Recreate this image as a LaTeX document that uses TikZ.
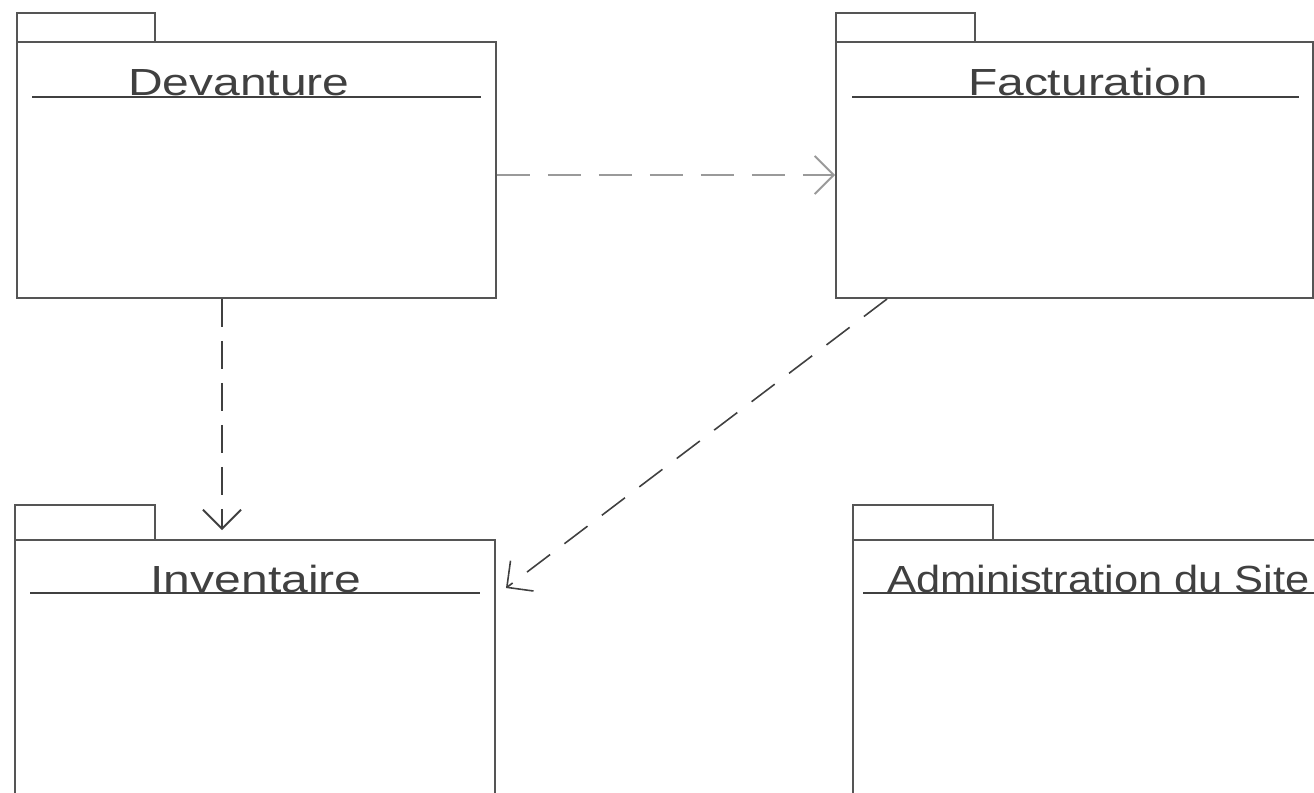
\documentclass[tikz,border=0pt]{standalone}
\usepackage{fontspec}
\setmainfont{Liberation Sans}
\usepackage{graphicx}
\usetikzlibrary{arrows.meta,fit}

\definecolor{trait}{HTML}{555555}
\definecolor{fonce}{HTML}{404040}
\definecolor{clair}{HTML}{9A9A9A}

\tikzset{
  paquet/.style={draw=trait, line width=1.1pt, fill=white, inner sep=0pt},
  titre/.style={text=fonce, inner sep=0pt, anchor=base, font=\fontsize{21.5}{24}\selectfont},
  souligne/.style={draw=fonce, line width=1.1pt},
  dep/.style={line width=1.1pt, -{Straight Barb[length=0.38cm,width=0.76cm]}},
}

\begin{document}
\begin{tikzpicture}[x=0.02cm, y=-0.02cm]
  \clip (0,0) rectangle (1314,792);
  \fill[white] (0,0) rectangle (1314,792);

  % paquets
  \node[paquet, fit={(17,13) (155,42)}] (devTab) {};
  \node[paquet, fit={(17,42) (496,298)}] (dev) {};
  \node[paquet, fit={(836,13) (975,42)}] (facTab) {};
  \node[paquet, fit={(836,42) (1313,298)}] (fac) {};
  \node[paquet, fit={(15,505) (155,540)}] (invTab) {};
  \node[paquet, fit={(15,540) (495,900)}] (inv) {};
  \node[paquet, fit={(853,505) (993,540)}] (admTab) {};
  \node[paquet, fit={(853,540) (1500,900)}] (adm) {};

  % titres
  \node[titre] (devT) at (239,95) {\scalebox{1.27}[1]{Devanture}};
  \draw[souligne] (32,97) -- (481,97);
  \node[titre] (facT) at (1088,95) {\scalebox{1.27}[1]{Facturation}};
  \draw[souligne] (852,97) -- (1299,97);
  \node[titre] (invT) at (256,592) {\scalebox{1.27}[1]{Inventaire}};
  \draw[souligne] (30,593) -- (480,593);
  \node[titre, anchor=base west] (admT) at (887,592) {\scalebox{1.15}[1]{Administration du Site}};
  \draw[souligne] (863,593) -- (1330,593);

  % dependances
  \coordinate (invIn) at (222,530);
  \draw[dep, draw=clair, dash pattern=on 0.66cm off 0.36cm]
    ([yshift=-0.1cm]dev.east) -- ([yshift=-0.1cm]fac.west);
  \draw[dep, draw=fonce, dash pattern=on 0.56cm off 0.28cm]
    (dev.south -| 222,0) -- (invIn);
  \draw[dep, draw=fonce, line width=0.9pt, dash pattern=on 0.58cm off 0.36cm]
    ([xshift=1.04cm]fac.south west) -- ([shift={(0.2cm,-0.98cm)}]inv.north east);
\end{tikzpicture}
\end{document}
